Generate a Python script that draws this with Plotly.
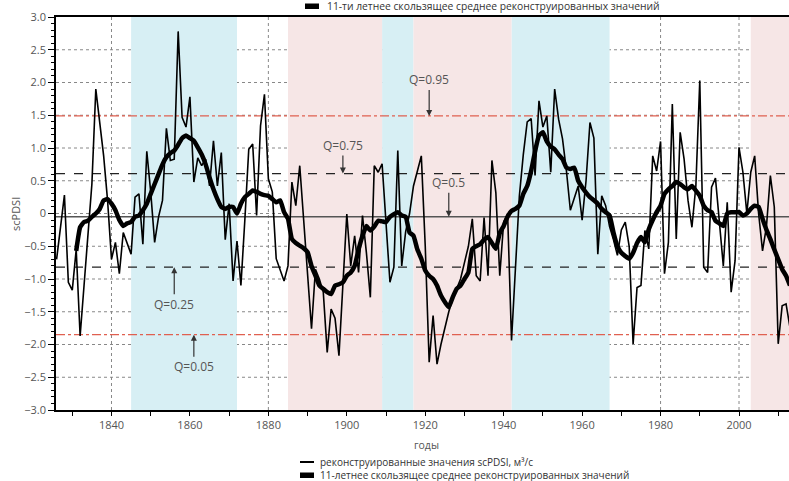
import plotly.graph_objects as go

# ---------------- data ----------------
years = list(range(1826, 2014))
scpdsi = [
    -0.70, -0.20, 0.28, -1.05,
    -1.17, -0.55, -1.87, -1.10, -0.35, 0.45, 1.90, 1.40, 0.88, 0.20,
    -0.70, -0.44, -0.92, -0.29, -0.45, -0.62, 0.25, 0.30, -0.47, 0.95,
    0.33, -0.44, -0.05, 0.20, 1.30, 0.81, 0.83, 2.78, 1.47, 1.32,
    1.78, 0.48, 0.85, 0.73, 0.83, 0.42, 1.11, 0.42, 0.93, -0.40,
    0.15, -1.03, -0.42, -1.10, -0.10, 0.98, 1.06, -0.03, 1.34, 1.82,
    0.53, 0.33, -0.69, -0.85, -1.03, -0.80, 0.48, 0.12, 0.73, -0.10,
    -0.95, -1.76, -0.85, -1.00, -1.20, -2.12, -1.46, -1.60, -2.17, -1.10,
    -0.01, -0.80, -0.34, -0.90, -0.03, -0.60, -1.28, 0.73, 0.63, 0.76,
    -0.15, -1.05, -0.82, 0.96, -0.80, -0.28, 0.00, 0.42, 0.65, 0.88,
    -0.50, -2.27, -1.56, -2.30, -2.00, -1.75, -1.50, -1.30, -1.15, -1.00,
    -0.75, -0.50, -0.08, -0.95, -1.03, -0.06, -0.95, 0.81, 0.32, -0.95,
    -0.13, 0.00, -1.94, -0.80, 0.27, 0.90, 1.40, 1.45, 0.58, 1.72,
    1.32, 1.49, 0.63, 1.90, 1.44, 1.14, 0.65, 0.05, 0.25, 0.42,
    -0.10, 0.50, 1.39, 1.15, -0.62, 0.27, 0.12, -0.20, -0.40, -0.64,
    -0.25, -0.13, -0.50, -1.99, -1.13, -1.10, -0.26, -0.54, 0.88, 0.65,
    1.10, -0.92, -0.44, 1.67, -0.39, 1.24, 0.83, 0.20, -0.21, 0.42,
    2.03, -0.82, -0.90, 0.40, 0.54, -0.10, -0.80, 0.17, -1.20, -0.72,
    1.01, 0.63, 0.00, 0.63, 0.88, 0.00, -0.57, -0.20, 0.58, 0.10,
    -1.99, -1.41, -1.38, -1.74,
]

ma_years = list(range(1831, 2014))
ma_values = [
    -0.57, -0.21, -0.13, -0.11, -0.05, 0.00, 0.07, 0.20, 0.22,
    0.15, 0.05, -0.10, -0.19, -0.15, -0.13, -0.05, -0.03, 0.05, 0.15,
    0.30, 0.45, 0.60, 0.75, 0.86, 0.92, 0.96, 1.05, 1.15, 1.19,
    1.15, 1.11, 1.01, 0.90, 0.75, 0.55, 0.37, 0.22, 0.10, 0.07,
    0.10, 0.10, 0.00, 0.15, 0.25, 0.30, 0.35, 0.33, 0.30, 0.28,
    0.27, 0.22, 0.17, 0.20, 0.02, -0.08, -0.39, -0.45, -0.49, -0.53,
    -0.59, -0.80, -0.95, -1.10, -1.15, -1.20, -1.23, -1.10, -1.08, -1.05,
    -0.95, -0.90, -0.80, -0.55, -0.34, -0.19, -0.26, -0.20, -0.11, -0.12,
    -0.13, -0.05, -0.01, 0.02, -0.03, -0.05, -0.29, -0.34, -0.55, -0.69,
    -0.87, -0.95, -1.00, -1.10, -1.25, -1.35, -1.43, -1.28, -1.15, -1.10,
    -1.00, -0.90, -0.54, -0.50, -0.47, -0.40, -0.36, -0.45, -0.54, -0.30,
    -0.19, -0.05, 0.04, 0.07, 0.12, 0.30, 0.42, 0.65, 0.95, 1.19,
    1.24, 1.10, 1.02, 0.98, 0.90, 0.83, 0.70, 0.68, 0.70, 0.50,
    0.40, 0.32, 0.25, 0.20, 0.15, 0.07, 0.02, -0.03, -0.29, -0.50,
    -0.60, -0.65, -0.69, -0.60, -0.45, -0.36, -0.44, -0.24, -0.10, 0.02,
    0.12, 0.30, 0.37, 0.42, 0.48, 0.45, 0.40, 0.37, 0.42, 0.35,
    0.27, 0.12, 0.05, 0.02, -0.11, -0.15, -0.19, 0.00, 0.02, 0.02,
    0.02, -0.03, 0.00, 0.07, 0.12, 0.10, -0.08, -0.25, -0.39, -0.55,
    -0.70, -0.85, -0.95, -1.10,
]

q_labels = ["Q=0.05", "Q=0.25", "Q=0.5", "Q=0.75", "Q=0.95"]
q_values = [-1.85, -0.82, -0.05, 0.61, 1.49]
q_arrow_years = [1861, 1856, 1926, 1899, 1921]

wet_periods = [(1845, 1872), (1909, 1917), (1942, 1967)]
dry_periods = [(1885, 1909), (1917, 1942), (2003, 2014)]

x_tick_vals = [1840, 1860, 1880, 1900, 1920, 1940, 1960, 1980, 2000]
x_minor_vals = [1830, 1850, 1870, 1890, 1910, 1930, 1950, 1970, 1990, 2010]
y_tick_vals = [-3.0, -2.5, -2.0, -1.5, -1.0, -0.5, 0.0, 0.5, 1.0, 1.5, 2.0, 2.5, 3.0]
y_tick_text = ["\u22123.0", "\u22122.5", "\u22122.0", "\u22121.5", "\u22121.0", "\u22120.5",
               "0", "0.5", "1.0", "1.5", "2.0", "2.5", "3.0"]
y_grid_vals = [-2.5, -2.0, -1.5, -1.0, -0.5, 0.0, 0.5, 1.0, 1.5, 2.0, 2.5]

legend_thin = "реконструированные значения scPDSI, м³/с"
legend_thick = "11-летнее скользящее среднее реконструированных значений"
legend_top = "11-ти летнее скользящее среднее реконструированных значений"

# ---------------- layout geometry ----------------
W, H = 789, 481
ML, MR, MT, MB = 56, 0, 17, 71
PW, PH = W - ML - MR, H - MT - MB
X_RANGE = [1825.85, 2012.75]
Y_RANGE = [-3.0, 3.0]


def px(xp):
    return (xp - ML) / PW


def py(yp):
    return (H - MB - yp) / PH


FONT = "Open Sans"
GRAY = "#555555"

fig = go.Figure()

shapes = []
# dotted grid (drawn first so shaded periods cover it)
for v in y_grid_vals:
    shapes.append(dict(type="line", xref="paper", x0=0, x1=1, yref="y", y0=v, y1=v,
                       line=dict(color="#888888", width=1, dash="dot"), layer="below"))
for v in x_tick_vals:
    shapes.append(dict(type="line", xref="x", x0=v, x1=v, yref="paper", y0=0, y1=1,
                       line=dict(color="#888888", width=1, dash="dot"), layer="below"))
# shaded periods
for a, b in wet_periods:
    shapes.append(dict(type="rect", xref="x", x0=a, x1=b, yref="paper", y0=0, y1=1,
                       fillcolor="#d7eff4", line=dict(width=0), layer="below"))
for a, b in dry_periods:
    shapes.append(dict(type="rect", xref="x", x0=a, x1=b, yref="paper", y0=0, y1=1,
                       fillcolor="#f6e6e6", line=dict(width=0), layer="below"))
# quantile lines
q_styles = {
    "Q=0.05": dict(color="#e06050", width=1.2, dash="dashdot"),
    "Q=0.95": dict(color="#e06050", width=1.2, dash="dashdot"),
    "Q=0.25": dict(color="#222222", width=1.3, dash="dash"),
    "Q=0.75": dict(color="#222222", width=1.3, dash="dash"),
    "Q=0.5": dict(color="#555555", width=1.6),
}
for lab, v in zip(q_labels, q_values):
    shapes.append(dict(type="line", xref="paper", x0=0, x1=1, yref="y", y0=v, y1=v,
                       line=q_styles[lab], layer="below"))

# custom legend symbols
shapes.append(dict(type="line", xref="paper", yref="paper", x0=px(300), x1=px(314),
                   y0=py(462), y1=py(462), line=dict(color="black", width=2)))
shapes.append(dict(type="rect", xref="paper", yref="paper", x0=px(300), x1=px(314),
                   y0=py(478), y1=py(472.5), fillcolor="black", line=dict(width=0)))
shapes.append(dict(type="rect", xref="paper", yref="paper", x0=px(305), x1=px(319),
                   y0=py(9), y1=py(3.5), fillcolor="black", line=dict(width=0)))

fig.add_trace(go.Scatter(x=years, y=scpdsi, mode="lines",
                         line=dict(color="black", width=1.6),
                         name=legend_thin, showlegend=False))
fig.add_trace(go.Scatter(x=ma_years, y=ma_values, mode="lines",
                         line=dict(color="black", width=4.5, shape="spline", smoothing=0.4),
                         name=legend_thick, showlegend=False))

annotations = []
q_offsets = {"Q=0.05": 32, "Q=0.25": 37, "Q=0.5": -34, "Q=0.75": -28, "Q=0.95": -36}
for lab, v, yr in zip(q_labels, q_values, q_arrow_years):
    annotations.append(dict(x=yr, y=v, xref="x", yref="y", text=lab, showarrow=True,
                            ax=0, ay=q_offsets[lab], arrowhead=2, arrowsize=1,
                            arrowwidth=1.2, arrowcolor="#333333", standoff=0,
                            font=dict(family=FONT, size=12, color=GRAY)))
annotations += [
    dict(xref="paper", yref="paper", x=px(318), y=py(462), xanchor="left", yanchor="middle",
         text=legend_thin, showarrow=False, font=dict(family=FONT, size=10, color="#333333")),
    dict(xref="paper", yref="paper", x=px(318), y=py(475), xanchor="left", yanchor="middle",
         text=legend_thick, showarrow=False, font=dict(family=FONT, size=10, color="#333333")),
    dict(xref="paper", yref="paper", x=px(325), y=py(6), xanchor="left", yanchor="middle",
         text=legend_top, showarrow=False, font=dict(family=FONT, size=10.3, color="#333333")),
    dict(xref="paper", yref="paper", x=px(426), y=py(445), xanchor="center", yanchor="middle",
         text="годы", showarrow=False, font=dict(family=FONT, size=10.5, color=GRAY)),
    dict(xref="paper", yref="paper", x=px(15), y=py(214), xanchor="center", yanchor="middle",
         text="scPDSI", textangle=-90, showarrow=False, font=dict(family=FONT, size=11, color=GRAY)),
]

fig.update_layout(
    width=W, height=H,
    margin=dict(l=ML, r=MR, t=MT, b=MB, pad=0),
    paper_bgcolor="white", plot_bgcolor="white",
    showlegend=False,
    shapes=shapes,
    annotations=annotations,
    font=dict(family=FONT, size=11, color=GRAY),
    xaxis=dict(range=X_RANGE, tickmode="array", tickvals=x_tick_vals,
               ticks="outside", ticklen=4, tickwidth=1, tickcolor="black",
               showline=True, linecolor="black", linewidth=1.5, mirror=True,
               showgrid=False, zeroline=False,
               tickfont=dict(family=FONT, size=11, color=GRAY),
               minor=dict(tickmode="array", tickvals=x_minor_vals, ticks="outside",
                          ticklen=4, tickcolor="black", showgrid=False)),
    yaxis=dict(range=Y_RANGE, tickmode="array", tickvals=y_tick_vals, ticktext=y_tick_text,
               ticks="outside", ticklen=6, tickwidth=1, tickcolor="black",
               showline=True, linecolor="black", linewidth=1.5,
               showgrid=False, zeroline=False,
               tickfont=dict(family=FONT, size=11, color=GRAY),
               minor=dict(dtick=0.1, tick0=0, ticks="outside", ticklen=3,
                          tickcolor="black", showgrid=False)),
)

fig.write_html("out.html")
